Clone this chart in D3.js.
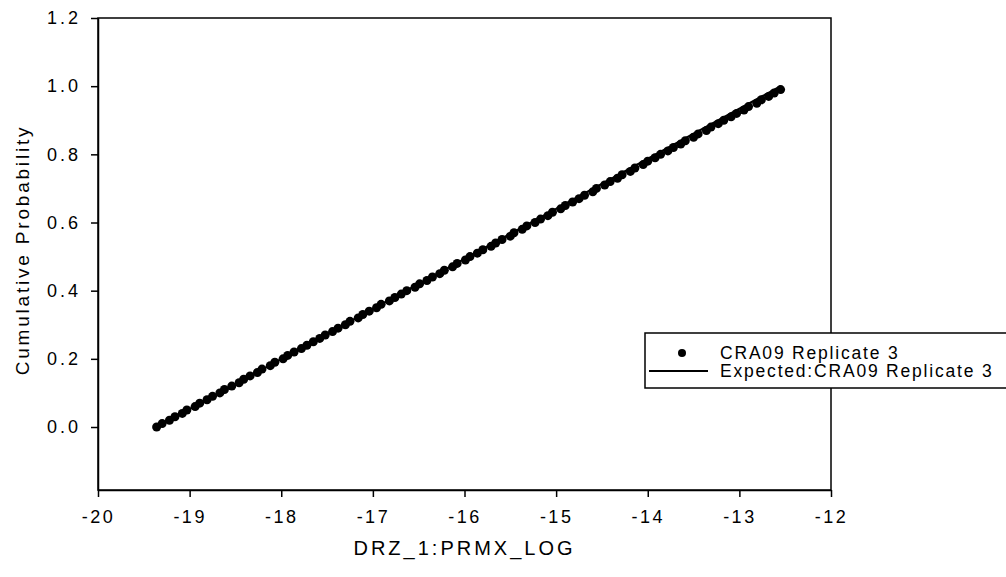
<!DOCTYPE html>
<html>
<head>
<meta charset="utf-8">
<script src="https://cdn.jsdelivr.net/npm/d3@7"></script>
<style>
  body { margin: 0; background: #fff; }
  text { font-family: "Liberation Sans", Arial, sans-serif; fill: #000; }
</style>
</head>
<body>
<div id="container"></div>
<script>
var sampleX = [-19.36,-19.30,-19.22,-19.16,-19.08,-19.03,-18.94,-18.89,-18.81,-18.75,
  -18.67,-18.62,-18.54,-18.46,-18.41,-18.34,-18.26,-18.21,-18.12,-18.07,
  -17.98,-17.93,-17.86,-17.78,-17.72,-17.65,-17.58,-17.52,-17.44,-17.38,
  -17.30,-17.25,-17.16,-17.11,-17.04,-16.96,-16.91,-16.82,-16.76,-16.69,
  -16.63,-16.54,-16.49,-16.41,-16.35,-16.27,-16.22,-16.13,-16.08,-15.99,
  -15.94,-15.86,-15.80,-15.71,-15.66,-15.59,-15.50,-15.46,-15.37,-15.32,
  -15.23,-15.17,-15.09,-15.04,-14.95,-14.90,-14.82,-14.75,-14.69,-14.60,
  -14.56,-14.47,-14.41,-14.33,-14.28,-14.19,-14.14,-14.05,-14.00,-13.92,
  -13.86,-13.78,-13.72,-13.64,-13.59,-13.50,-13.45,-13.36,-13.31,-13.23,
  -13.17,-13.09,-13.03,-12.95,-12.90,-12.81,-12.76,-12.68,-12.62,-12.55]

// expected (uniform) cdf end points
var expectedX = [-19.36, -12.55]
var expectedY = [0, 1]

var xTicks = [-20,-19,-18,-17,-16,-15,-14,-13,-12]
var yTicks = [0.0,0.2,0.4,0.6,0.8,1.0,1.2]
var legendLabels = ["CRA09 Replicate 3", "Expected:CRA09 Replicate 3"]

var points = sampleX.map(function(d,i){ return {x:d, p:i/sampleX.length} })

var svg = d3.select("#container").append("svg").attr("width",1006).attr("height",577)

var mLeft = 98, mRight = 831, mTop = 18, mBottom = 490

var xScale = d3.scaleLinear().domain([-20,-12]).range([mLeft,mRight])
var yScale = d3.scaleLinear().domain([-0.1848,1.2]).range([mBottom,mTop])

// frame
svg.append("rect")
  .attr("x",mLeft).attr("y",mTop)
  .attr("width",mRight-mLeft).attr("height",mBottom-mTop)
  .attr("fill","none").attr("stroke","#000").attr("stroke-width",1.5)

var xAxis = svg.append("g")
  .attr("transform","translate(0,"+mBottom+")")
  .call(d3.axisBottom(xScale).tickValues(xTicks).tickSize(7).tickSizeOuter(0).tickPadding(13)
    .tickFormat(function(d){return String(d)}))
xAxis.select(".domain").attr("stroke-width",1.5)
xAxis.selectAll("line").attr("stroke-width",1.5)
xAxis.selectAll("text").attr("font-size",18).attr("letter-spacing",2.5)

var yAxis = svg.append("g")
  .attr("transform","translate("+mLeft+",0)")
  .call(d3.axisLeft(yScale).tickValues(yTicks).tickSize(7).tickSizeOuter(0).tickPadding(10)
    .tickFormat(function(d){return d.toFixed(1)}))
yAxis.select(".domain").attr("stroke-width",1.5)
yAxis.selectAll("line").attr("stroke-width",1.5)
yAxis.selectAll("text").attr("font-size",18).attr("letter-spacing",3)

svg.append("text")
  .attr("x",(mLeft+mRight)/2).attr("y",555)
  .attr("text-anchor","middle").attr("font-size",20).attr("letter-spacing",3)
  .text("DRZ_1:PRMX_LOG")

svg.append("text")
  .attr("transform","translate(29,250) rotate(-90)")
  .attr("text-anchor","middle").attr("font-size",19).attr("letter-spacing",2.8)
  .text("Cumulative Probability")

// expected line
svg.append("path")
  .attr("fill","none").attr("stroke","#000").attr("stroke-width",2)
  .attr("d", d3.line()
    .x(function(d){return xScale(d[0])})
    .y(function(d){return yScale(d[1])})
    (d3.zip(expectedX,expectedY)))

// sample points
svg.selectAll(".pt")
  .data(points)
  .enter()
  .append("circle")
  .attr("class","pt")
  .attr("cx",function(d){return xScale(d.x)})
  .attr("cy",function(d){return yScale(d.p)})
  .attr("r",4.5)
  .attr("fill","#000")

// legend
var lg = svg.append("g").attr("transform","translate(645,333)")
lg.append("rect").attr("x",0).attr("y",0).attr("width",380).attr("height",55)
  .attr("fill","#fff").attr("stroke","#000").attr("stroke-width",1.5)
lg.append("circle").attr("cx",37).attr("cy",20).attr("r",4).attr("fill","#000")
lg.append("line").attr("x1",4).attr("x2",63).attr("y1",38).attr("y2",38)
  .attr("stroke","#000").attr("stroke-width",2)
lg.selectAll(".lgText")
  .data(legendLabels)
  .enter()
  .append("text")
  .attr("class","lgText")
  .attr("x",75)
  .attr("y",function(d,i){return 20+i*18})
  .attr("dy","0.35em")
  .attr("font-size",17.5)
  .attr("letter-spacing",1.8)
  .text(function(d){return d})
</script>
</body>
</html>
